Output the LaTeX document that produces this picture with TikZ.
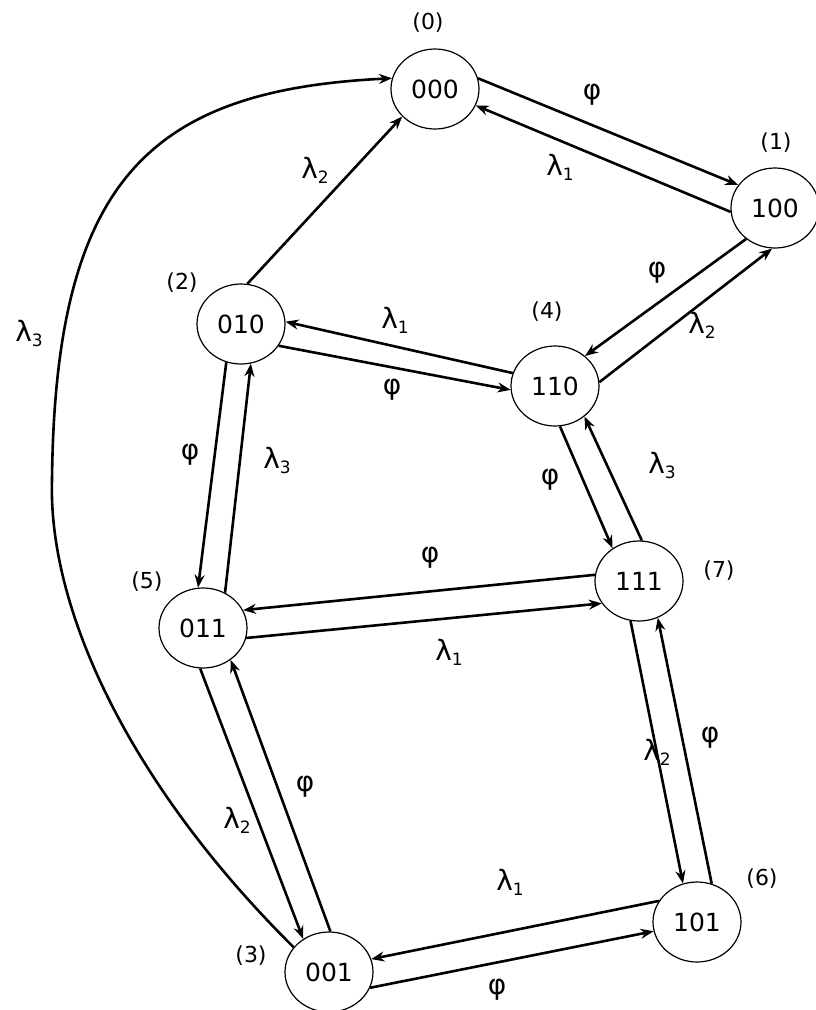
\documentclass[tikz,border=0pt]{standalone}
\usepackage{fontspec}
\setmainfont{DejaVu Sans}
\usetikzlibrary{shapes.geometric,arrows.meta}
\newcommand\glab[2]{#1\raisebox{-5pt}{\fontsize{17}{19}\selectfont #2}}
\begin{document}
\begin{tikzpicture}[x=1pt,y=-1pt,
  st/.style={ellipse, draw, line width=1.2pt, minimum width=88pt, minimum height=80pt, inner sep=0pt, font=\fontsize{25}{28}\selectfont},
  num/.style={font=\fontsize{22}{25}\selectfont, inner sep=0pt},
  lab/.style={font=\fontsize{28}{32}\selectfont, inner sep=0pt},
  conn/.style={line width=2.6pt, -{Stealth[length=13pt,width=10pt]}}]
\useasboundingbox (0,0) rectangle (815,1010);
% states
\node[st] (n0) at (435,89)  {000};
\node[st] (n1) at (775,208) {100};
\node[st] (n2) at (241,324) {010};
\node[st] (n4) at (555,386) {110};
\node[st] (n7) at (639,581) {111};
\node[st] (n5) at (203,628) {011};
\node[st] (n6) at (697,922) {101};
\node[st] (n3) at (329,972) {001};
% state numbers
\node[num] (t0) at (428,23)  {(0)};
\node[num] (t1) at (776,143) {(1)};
\node[num] (t2) at (182,283) {(2)};
\node[num] (t4) at (547,312) {(4)};
\node[num] (t7) at (719,571) {(7)};
\node[num] (t5) at (147,582) {(5)};
\node[num] (t6) at (762,879) {(6)};
\node[num] (t3) at (251,956) {(3)};
% connectors
\draw[conn] (n0.14) -- (n1.148);
\draw[conn] (n1.185) -- (n0.338);
\draw[conn] (n2.81) -- (n0.220);
\coordinate (c1) at (52,480);
\draw[conn] (n3.145) .. controls (130,785) and (48,610) .. (c1)
                     .. controls (55,180) and (150,90) .. (n0.166);
\draw[conn] (n4.163) -- (n2.3);
\draw[conn] (n2.330) -- (n4.185);
\draw[conn] (n1.227) -- (n4.45);
\draw[conn] (n4.5) -- (n1.266);
\draw[conn] (n2.249.5) -- (n5.97.5);
\draw[conn] (n5.58.6) -- (n2.284.7);
\draw[conn] (n4.277) -- (n7.129);
\draw[conn] (n7.86) -- (n4.314);
\draw[conn] (n7.172) -- (n5.24);
\draw[conn] (n5.347) -- (n7.211.6);
\draw[conn] (n5.266) -- (n3.128);
\draw[conn] (n3.88.6) -- (n5.311);
\draw[conn] (n7.258) -- (n6.110);
\draw[conn] (n6.69) -- (n7.297.6);
\draw[conn] (n6.151.6) -- (n3.17);
\draw[conn] (n3.339) -- (n6.192.5);
% rate labels
\node[lab] (l1)  at (592,95)  {φ};
\node[lab] (l2)  at (560,167) {\glab{λ}{1}};
\node[lab] (l3)  at (315,170) {\glab{λ}{2}};
\node[lab] (l4)  at (29,333)  {\glab{λ}{3}};
\node[lab] (l5)  at (395,320) {\glab{λ}{1}};
\node[lab] (l6)  at (392,390) {φ};
\node[lab] (l7)  at (657,273) {φ};
\node[lab] (l8)  at (702,325) {\glab{λ}{2}};
\node[lab] (l9)  at (190,455) {φ};
\node[lab] (l10) at (277,460) {\glab{λ}{3}};
\node[lab] (l11) at (550,480) {φ};
\node[lab] (l12) at (662,465) {\glab{λ}{3}};
\node[lab] (l13) at (430,558) {φ};
\node[lab] (l14) at (449,652) {\glab{λ}{1}};
\node[lab] (l15) at (237,820) {\glab{λ}{2}};
\node[lab] (l16) at (305,787) {φ};
\node[lab] (l17) at (657,752) {\glab{λ}{2}};
\node[lab] (l18) at (710,738) {φ};
\node[lab] (l19) at (510,882) {\glab{λ}{1}};
\node[lab] (l20) at (497,990) {φ};
\end{tikzpicture}
\end{document}
